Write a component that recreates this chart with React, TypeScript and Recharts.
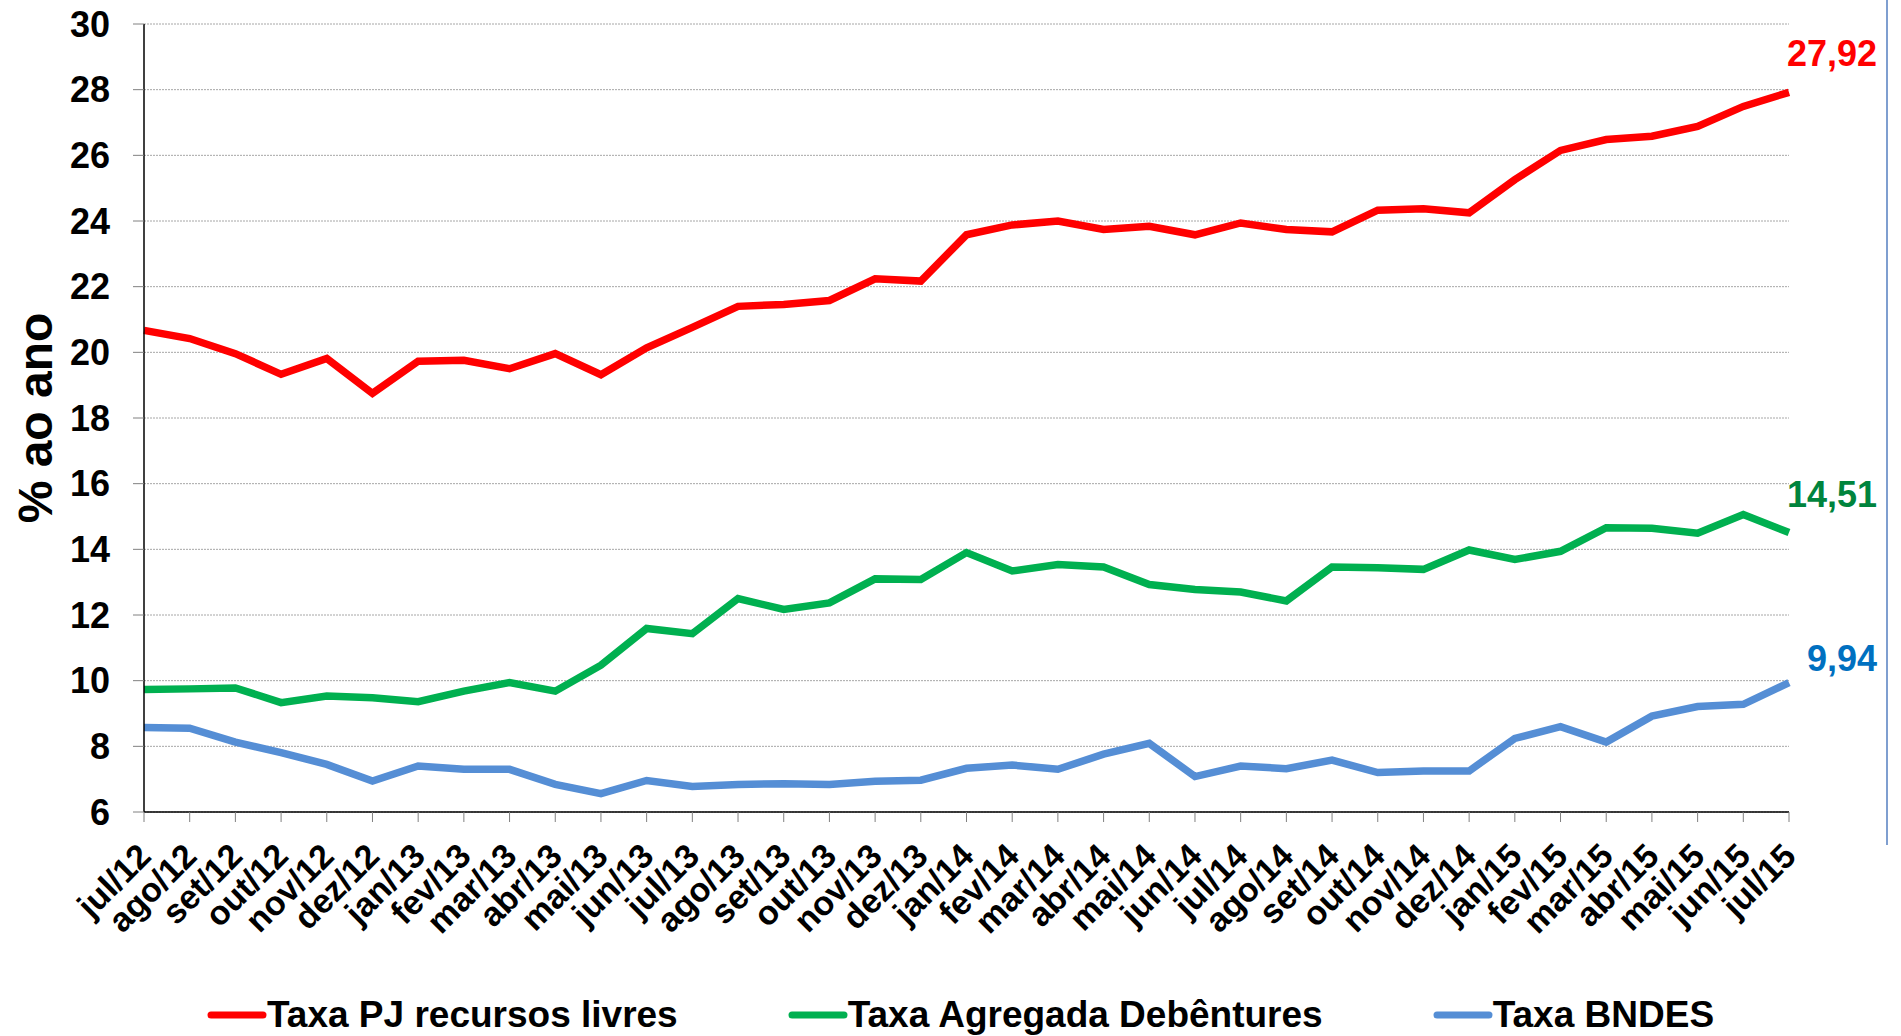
import React from "react";
import {
  CartesianGrid,
  LabelList,
  Legend,
  Line,
  LineChart,
  XAxis,
  YAxis,
} from "recharts";

const months = [
  "jul/12", "ago/12", "set/12", "out/12", "nov/12", "dez/12",
  "jan/13", "fev/13", "mar/13", "abr/13", "mai/13", "jun/13",
  "jul/13", "ago/13", "set/13", "out/13", "nov/13", "dez/13",
  "jan/14", "fev/14", "mar/14", "abr/14", "mai/14", "jun/14",
  "jul/14", "ago/14", "set/14", "out/14", "nov/14", "dez/14",
  "jan/15", "fev/15", "mar/15", "abr/15", "mai/15", "jun/15",
  "jul/15",
];

const taxaPJ = [
  20.67, 20.42, 19.96, 19.33, 19.81, 18.75, 19.73, 19.76, 19.5, 19.96,
  19.32, 20.14, 20.76, 21.4, 21.46, 21.58, 22.24, 22.17, 23.58, 23.88,
  24.0, 23.74, 23.84, 23.58, 23.94, 23.74, 23.67, 24.33, 24.37, 24.25,
  25.26, 26.15, 26.48, 26.58, 26.88, 27.49, 27.92,
];

const taxaDebentures = [
  9.73, 9.75, 9.78, 9.33, 9.53, 9.48, 9.36, 9.68, 9.94, 9.68,
  10.47, 11.59, 11.43, 12.5, 12.17, 12.37, 13.1, 13.08, 13.9, 13.34,
  13.54, 13.46, 12.93, 12.78, 12.7, 12.43, 13.46, 13.44, 13.39, 13.98,
  13.69, 13.94, 14.66, 14.64, 14.49, 15.06, 14.51,
];

const taxaBNDES = [
  8.57, 8.55, 8.13, 7.81, 7.45, 6.94, 7.4, 7.3, 7.3, 6.84,
  6.56, 6.96, 6.78, 6.84, 6.86, 6.84, 6.94, 6.97, 7.33, 7.43,
  7.3, 7.76, 8.09, 7.08, 7.4, 7.32, 7.58, 7.2, 7.25, 7.25,
  8.24, 8.6, 8.13, 8.92, 9.21, 9.28, 9.94,
];

const seriesNames = [
  "Taxa PJ recursos livres",
  "Taxa Agregada Debêntures",
  "Taxa BNDES",
];

const yTicks = [6, 8, 10, 12, 14, 16, 18, 20, 22, 24, 26, 28, 30];

const data = months.map((m, i) => ({
  month: m,
  pj: taxaPJ[i],
  deb: taxaDebentures[i],
  bndes: taxaBNDES[i],
}));

const FONT = "'Liberation Sans', Arial, sans-serif";

const XTick = (props: any) => {
  const { x, y, payload } = props;
  return (
    <g transform={`translate(${x + 9},${y + 36})`}>
      <text
        x={0}
        y={0}
        textAnchor="end"
        transform="rotate(-45)"
        fill="#000"
        fontSize={34}
        fontWeight="bold"
        fontFamily={FONT}
      >
        {payload.value}
      </text>
    </g>
  );
};

const EndLabel = (props: any) => {
  const { x, y, value, index, color, dy } = props;
  if (index !== months.length - 1) return null;
  return (
    <text
      x={x + 88}
      y={y + dy}
      textAnchor="end"
      fill={color}
      fontSize={36}
      fontWeight="bold"
      fontFamily={FONT}
    >
      {Number(value).toFixed(2).replace(".", ",")}
    </text>
  );
};

const LegendContent = (props: any) => {
  const items = [...(props.payload || [])].sort(
    (a: any, b: any) => seriesNames.indexOf(a.value) - seriesNames.indexOf(b.value)
  );
  return (
    <div
      style={{
        height: 50,
        boxSizing: "border-box",
        paddingTop: 8,
        paddingLeft: 207,
        display: "flex",
        alignItems: "center",
        gap: 110,
        fontFamily: FONT,
        fontWeight: "bold",
        fontSize: 37,
        lineHeight: "38px",
        color: "#000",
        whiteSpace: "nowrap",
      }}
    >
      {items.map((entry: any) => (
        <div key={entry.value} style={{ display: "flex", alignItems: "center" }}>
          <svg width={60} height={12}>
            <line
              x1={4}
              y1={6}
              x2={56}
              y2={6}
              stroke={entry.color}
              strokeWidth={7}
              strokeLinecap="round"
            />
          </svg>
          <span>{entry.value}</span>
        </div>
      ))}
    </div>
  );
};

export default function App() {
  return (
    <div
      style={{
        position: "absolute",
        left: 0,
        top: 0,
        width: 1901,
        height: 1036,
        background: "#fff",
        overflow: "hidden",
      }}
    >
      <LineChart
        width={1901}
        height={1036}
        data={data}
        margin={{ top: 24, right: 112, bottom: 0, left: 0 }}
      >
        <CartesianGrid
          vertical={false}
          stroke="#a6a6a6"
          strokeDasharray="2 1"
        />
        <XAxis
          dataKey="month"
          interval={0}
          height={174}
          tickSize={10}
          tickMargin={0}
          axisLine={{ stroke: "#000", strokeWidth: 1.5 }}
          tickLine={{ stroke: "#808080" }}
          tick={<XTick />}
        />
        <YAxis
          domain={[6, 30]}
          ticks={yTicks}
          width={144}
          tickSize={11}
          tickMargin={23}
          axisLine={{ stroke: "#000", strokeWidth: 1.5 }}
          tickLine={{ stroke: "#808080" }}
          tick={{
            fill: "#000",
            fontSize: 36,
            fontWeight: "bold",
            fontFamily: FONT,
          }}
          label={{
            value: "% ao ano",
            angle: -90,
            position: "insideLeft",
            offset: 35,
            style: {
              textAnchor: "middle",
              fill: "#000",
              fontSize: 48,
              fontWeight: "bold",
              fontFamily: FONT,
            },
          }}
        />
        <Legend
          verticalAlign="bottom"
          width={1901}
          wrapperStyle={{ left: 0, bottom: 0 }}
          content={<LegendContent />}
        />
        <Line
          type="linear"
          dataKey="pj"
          name={seriesNames[0]}
          stroke="#ff0000"
          strokeWidth={7.5}
          dot={false}
          activeDot={false}
          isAnimationActive={false}
        >
          <LabelList
            dataKey="pj"
            content={(p: any) => <EndLabel {...p} color="#ff0000" dy={-26} />}
          />
        </Line>
        <Line
          type="linear"
          dataKey="deb"
          name={seriesNames[1]}
          stroke="#00b050"
          strokeWidth={7.5}
          dot={false}
          activeDot={false}
          isAnimationActive={false}
        >
          <LabelList
            dataKey="deb"
            content={(p: any) => <EndLabel {...p} color="#00843d" dy={-26} />}
          />
        </Line>
        <Line
          type="linear"
          dataKey="bndes"
          name={seriesNames[2]}
          stroke="#558ed5"
          strokeWidth={7.5}
          dot={false}
          activeDot={false}
          isAnimationActive={false}
        >
          <LabelList
            dataKey="bndes"
            content={(p: any) => <EndLabel {...p} color="#0070c0" dy={-12} />}
          />
        </Line>
      </LineChart>
      <div
        style={{
          position: "absolute",
          left: 1886,
          top: 0,
          width: 2,
          height: 845,
          background: "#7f9fd0",
        }}
      />
    </div>
  );
}
